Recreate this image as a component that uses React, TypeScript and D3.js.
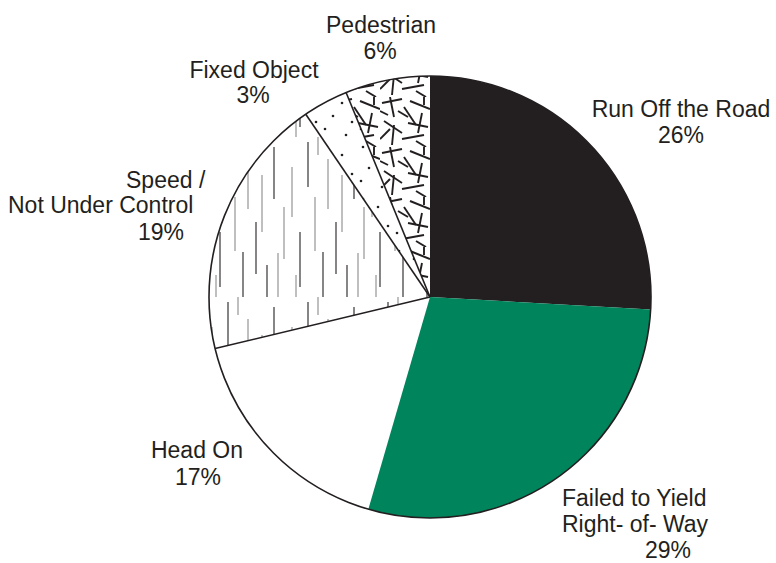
import React from "react";
import * as d3 from "d3";

const categories = [
  "Run Off the Road",
  "Failed to Yield Right-of-Way",
  "Head On",
  "Speed / Not Under Control",
  "Fixed Object",
  "Pedestrian",
];
const values = [25.9, 28.6, 16.75, 19.25, 3.3, 6.2];
const percentLabels = ["26%", "29%", "17%", "19%", "3%", "6%"];
const labelLines = [
  ["Run Off the Road"],
  ["Failed to Yield", "Right- of- Way"],
  ["Head On"],
  ["Speed /", "Not Under Control"],
  ["Fixed Object"],
  ["Pedestrian"],
];
const fills = ["#231f20", "#00845c", "#ffffff", "url(#vlines)", "url(#dots)", "url(#cross)"];

// label layout (x, baseline, anchor)
const labelLayout = [
  { lines: [[681, 117, "middle"], [681, 143, "middle"]] },
  { lines: [[562, 506, "start"], [562, 532, "start"], [645, 558, "start"]] },
  { lines: [[197, 458, "middle"], [198, 485, "middle"]] },
  { lines: [[126, 188, "start"], [8, 213, "start"], [138, 240, "start"]] },
  { lines: [[254, 78, "middle"], [253, 103, "middle"]] },
  { lines: [[381, 33, "middle"], [380, 59, "middle"]] },
];

const W = 776;
const H = 563;
const cx = 430;
const cy = 297;
const R = 221;
const ink = "#231f20";

const vlineSegs: [number, number, number, string][] = [
  [4, 10, 62, ink], [14, 70, 122, "#8a8a8a"], [22, 30, 80, "#8a8a8a"], [30, 95, 150, ink],
  [38, 5, 50, ink], [45, 60, 114, "#8a8a8a"], [53, 115, 160, ink], [58, 22, 72, "#8a8a8a"],
  [66, 85, 137, ink], [72, 38, 95, "#8a8a8a"], [8, 116, 160, "#8a8a8a"], [48, 0, 18, "#8a8a8a"],
  [77, 128, 160, ink], [26, 138, 160, "#8a8a8a"],
];
const dotPts: [number, number][] = [[5, 6], [20, 14], [11, 27], [30, 33], [3, 40], [24, 46]];
const crossSegs: [number, number, number, number][] = [
  [2, 6, 22, 2], [10, 0, 14, 20], [24, 10, 36, 28], [30, 4, 50, 12], [42, 16, 38, 36],
  [4, 24, 22, 36], [14, 28, 12, 48], [22, 42, 44, 38], [28, 26, 48, 30], [0, 42, 10, 32],
  [36, 44, 46, 50], [44, 0, 44, 8], [0, 14, 8, 18], [18, 14, 28, 20],
];

export default function App() {
  const pie = d3.pie<number>().sort(null).value((d) => d)(values);
  const arc = d3.arc<d3.PieArcDatum<number>>().innerRadius(0).outerRadius(R);
  const drawOrder = [0, 2, 3, 4, 5, 1];
  const boundaryIdx = [3, 4, 5];
  return (
    <svg
      width={W}
      height={H}
      style={{ position: "absolute", left: 0, top: 0, display: "block", background: "#fff" }}
    >
      <defs>
        <pattern id="vlines" patternUnits="userSpaceOnUse" width={80} height={160}>
          <rect width={80} height={160} fill="#fff" />
          {vlineSegs.map(([x, y1, y2, c], i) => (
            <line key={i} x1={x} x2={x} y1={y1} y2={y2} stroke={c} strokeWidth={1.1} />
          ))}
        </pattern>
        <pattern id="dots" patternUnits="userSpaceOnUse" width={36} height={52}>
          <rect width={36} height={52} fill="#fff" />
          {dotPts.map(([x, y], i) => (
            <circle key={i} cx={x} cy={y} r={1.3} fill={ink} />
          ))}
        </pattern>
        <pattern id="cross" patternUnits="userSpaceOnUse" width={50} height={50}>
          <rect width={50} height={50} fill="#fff" />
          {crossSegs.map(([x1, y1, x2, y2], i) => (
            <line key={i} x1={x1} y1={y1} x2={x2} y2={y2} stroke={ink} strokeWidth={1.9} />
          ))}
        </pattern>
      </defs>
      <g transform={`translate(${cx},${cy})`}>
        {drawOrder.map((i) => (
          <path key={categories[i]} d={arc(pie[i]) || ""} fill={fills[i]} stroke="none" />
        ))}
        {boundaryIdx.map((i) => {
          const a = pie[i].startAngle;
          return (
            <line
              key={i}
              x1={0}
              y1={0}
              x2={R * Math.sin(a)}
              y2={-R * Math.cos(a)}
              stroke={ink}
              strokeWidth={1.6}
            />
          );
        })}
        <circle r={R} fill="none" stroke={ink} strokeWidth={1.6} />
      </g>
      <g fontFamily="'Liberation Sans', Arial, sans-serif" fontSize={23} fill={ink}>
        {labelLayout.map((lay, i) => {
          const texts = [...labelLines[i], percentLabels[i]];
          return texts.map((t, j) => {
            const [x, y, anchor] = lay.lines[j] as [number, number, string];
            return (
              <text key={`${i}-${j}`} x={x} y={y} textAnchor={anchor as any}>
                {t}
              </text>
            );
          });
        })}
      </g>
    </svg>
  );
}
